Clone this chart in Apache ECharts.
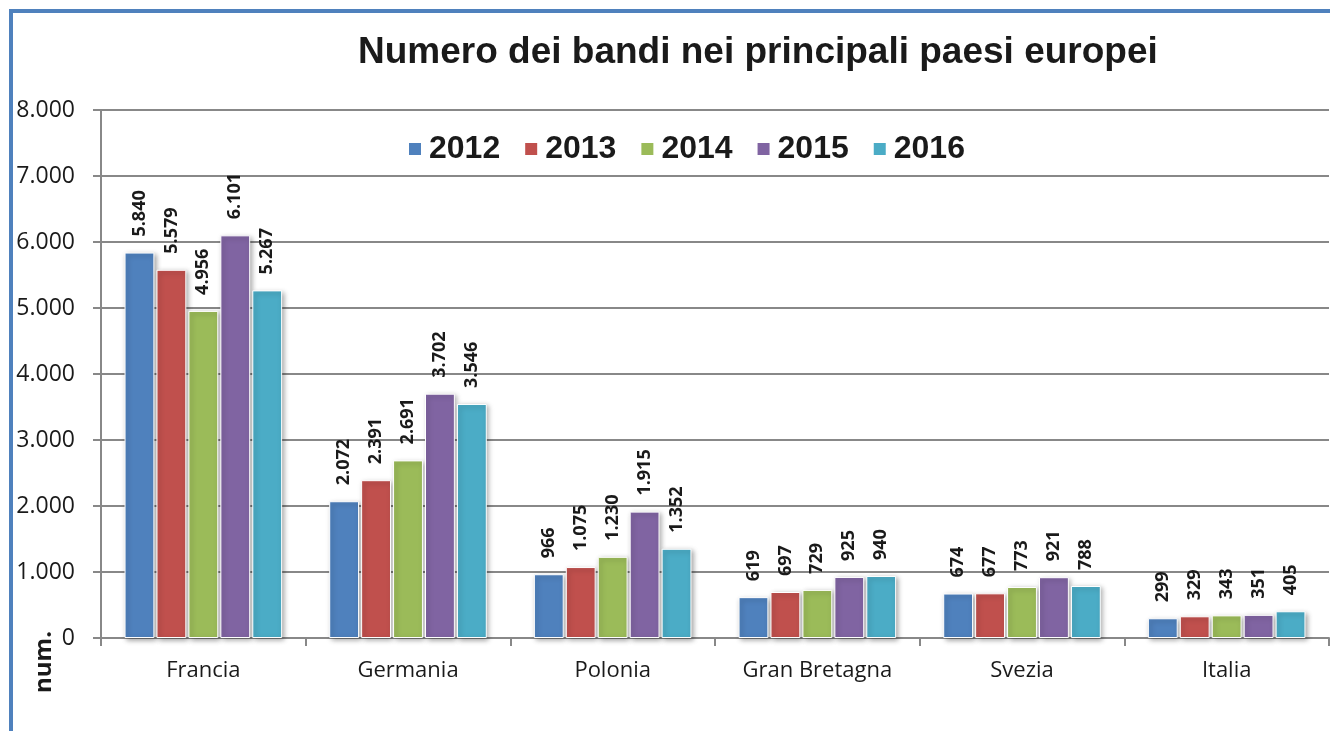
<!DOCTYPE html>
<html>
<head>
<meta charset="utf-8">
<script src="https://cdn.jsdelivr.net/npm/echarts@6/dist/echarts.min.js"></script>
<style>
  html, body { margin: 0; padding: 0; background: #fff; }
  #chart { width: 1330px; height: 731px; }
</style>
</head>
<body>
<div id="chart"></div>
<script>
"use strict";
// dati
var paesi = ["Francia", "Germania", "Polonia", "Gran Bretagna", "Svezia", "Italia"];
var anni = ["2012", "2013", "2014", "2015", "2016"];
var v2012 = [5840, 2072, 966, 619, 674, 299];
var v2013 = [5579, 2391, 1075, 697, 677, 329];
var v2014 = [4956, 2691, 1230, 729, 773, 343];
var v2015 = [6101, 3702, 1915, 925, 921, 351];
var v2016 = [5267, 3546, 1352, 940, 788, 405];
var valori = [v2012, v2013, v2014, v2015, v2016];
var colori = ["#4F81BD", "#C0504D", "#9BBB59", "#8064A2", "#4BACC6"];

// separatore migliaia all'italiana
function fmt(n) {
  return String(n).replace(/\B(?=(\d{3})+(?!\d))/g, ".");
}

var chart = echarts.init(document.getElementById("chart"));

var series = anni.map(function (a, i) {
  return {
    name: a,
    type: "bar",
    data: valori[i],
    barGap: "7%",
    barCategoryGap: "23%",
    itemStyle: {
      color: colori[i],
      borderColor: "#fff",
      borderWidth: 1,
      shadowBlur: 5,
      shadowColor: "rgba(0,0,0,0.35)",
      shadowOffsetX: 2,
      shadowOffsetY: 2
    },
    label: {
      show: true,
      position: "top",
      rotate: 90,
      align: "left",
      verticalAlign: "middle",
      distance: 16,
      fontFamily: "Open Sans",
      fontWeight: "bold",
      fontSize: 18,
      color: "#1a1a1a",
      formatter: function (p) { return fmt(p.value); }
    }
  };
});

chart.setOption({
  animation: false,
  backgroundColor: "#fff",
  title: {
    text: "Numero dei bandi nei principali paesi europei",
    left: 353,
    top: 29,
    textStyle: {
      fontFamily: "Liberation Sans",
      fontWeight: "bold",
      fontSize: 37,
      color: "#1a1a1a"
    }
  },
  legend: {
    data: anni,
    left: 402,
    top: 128,
    itemWidth: 14,
    itemHeight: 14,
    itemGap: 23,
    icon: "rect",
    textStyle: {
      fontFamily: "Liberation Sans",
      fontWeight: "bold",
      fontSize: 32,
      color: "#1a1a1a",
      padding: [0, 0, 0, 2]
    }
  },
  grid: { left: 101, right: 1, top: 110, bottom: 93 },
  xAxis: {
    type: "category",
    data: paesi,
    axisLine: { lineStyle: { color: "#888", width: 2 } },
    axisTick: { show: true, length: 8, lineStyle: { color: "#888", width: 2 } },
    axisLabel: {
      margin: 22,
      fontFamily: "Open Sans",
      fontSize: 22,
      color: "#1a1a1a"
    }
  },
  yAxis: {
    type: "value",
    min: 0,
    max: 8000,
    interval: 1000,
    axisLine: { show: true, lineStyle: { color: "#888", width: 2 } },
    axisTick: { show: true, length: 8, lineStyle: { color: "#888", width: 2 } },
    splitLine: { lineStyle: { color: "#888", width: 2 } },
    axisLabel: {
      margin: 26,
      fontFamily: "Open Sans",
      fontSize: 23,
      color: "#1a1a1a",
      formatter: function (v) { return fmt(v); }
    }
  },
  graphic: [
    {
      type: "rect",
      shape: { x: 11, y: 11, width: 1400, height: 800 },
      style: { fill: "none", stroke: "#4F81BD", lineWidth: 4 },
      silent: true
    },
    {
      type: "text",
      x: 44,
      y: 662,
      rotation: Math.PI / 2,
      style: {
        text: "num.",
        textAlign: "center",
        textVerticalAlign: "middle",
        fontFamily: "Open Sans",
        fontWeight: "bold",
        fontSize: 24,
        fill: "#1a1a1a"
      }
    }
  ],
  series: series
});
</script>
</body>
</html>
